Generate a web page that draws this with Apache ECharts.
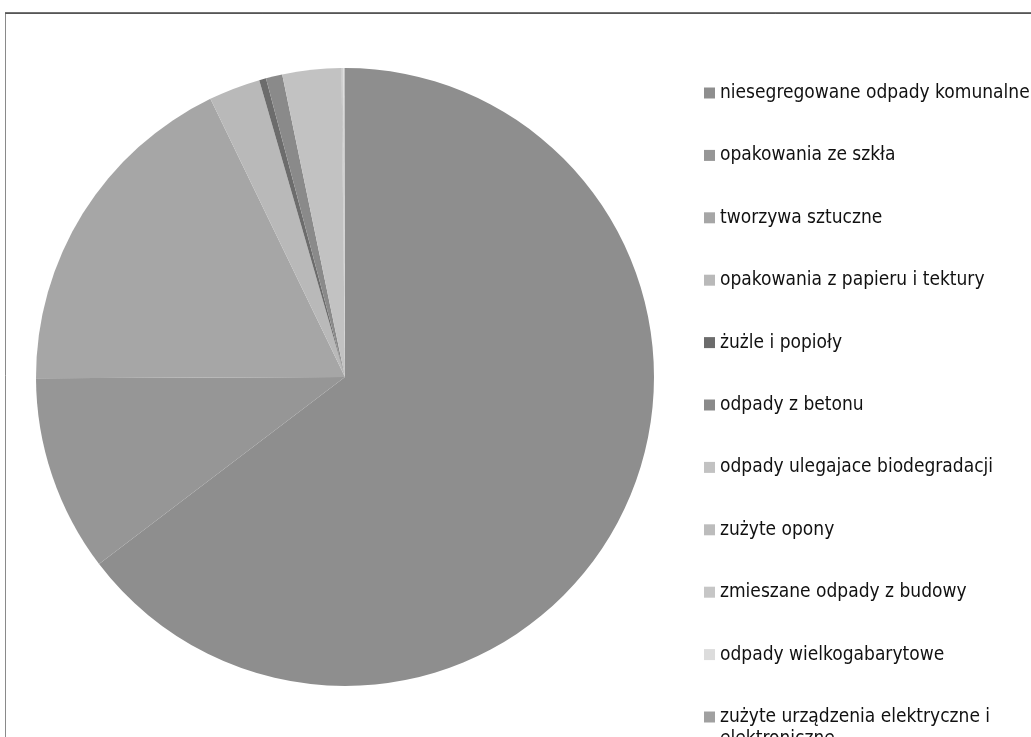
<!DOCTYPE html>
<html>
<head>
<meta charset="utf-8">
<script src="https://cdn.jsdelivr.net/npm/echarts@6/dist/echarts.min.js"></script>
<style>
html,body{margin:0;padding:0;background:#fff;}
#chart{width:1031px;height:737px;}
</style>
</head>
<body>
<div id="chart"></div>
<script>
const categories = [
  'niesegregowane odpady komunalne',
  'opakowania ze szkła',
  'tworzywa sztuczne',
  'opakowania z papieru i tektury',
  'żużle i popioły',
  'odpady z betonu',
  'odpady ulegajace biodegradacji',
  'zużyte opony',
  'zmieszane odpady z budowy',
  'odpady wielkogabarytowe',
  'zużyte urządzenia elektryczne i elektroniczne'
];
const values = [64.7, 10.3, 17.9, 2.7, 0.36, 0.86, 3.08, 0.05, 0.05, 0.05, 0.03];
const colors = ['#8e8e8e', '#969696', '#a6a6a6', '#b9b9b9', '#6c6c6c', '#8a8a8a',
                '#c2c2c2', '#bcbcbc', '#c6c6c6', '#dcdcdc', '#a0a0a0'];

const font = "'Liberation Sans Narrow', 'DejaVu Sans Condensed', 'Noto Sans', sans-serif";
const chart = echarts.init(document.getElementById('chart'));
chart.setOption({
  animation: false,
  backgroundColor: '#fff',
  color: colors,
  graphic: [
    { type: 'rect', silent: true, shape: { x: 5.5, y: 13.5, width: 1040, height: 740 },
      style: { fill: 'none', stroke: '#8a8a8a', lineWidth: 1 } },
    { type: 'line', silent: true, shape: { x1: 5, y1: 13, x2: 1031, y2: 13 },
      style: { stroke: '#444', lineWidth: 1.5 } },
    { type: 'text', silent: true, left: 720, top: 730,
      style: { text: 'elektroniczne', font: '19px ' + font, fill: '#111' } }
  ],
  legend: {
    orient: 'vertical',
    left: 704,
    top: 81,
    height: 700,
    padding: 0,
    itemWidth: 11,
    itemHeight: 11,
    itemGap: 38.4,
    icon: 'rect',
    selectedMode: false,
    formatter: function (name) {
      return name === categories[10] ? 'zużyte urządzenia elektryczne i' : name;
    },
    textStyle: { fontFamily: font, fontSize: 19, color: '#111', lineHeight: 24 },
    data: categories
  },
  series: [{
    type: 'pie',
    center: [345, 377],
    radius: 309,
    startAngle: 90,
    clockwise: true,
    label: { show: false },
    labelLine: { show: false },
    itemStyle: { borderWidth: 0 },
    emphasis: { disabled: true },
    data: categories.map((c, i) => ({ name: c, value: values[i] }))
  }]
});
</script>
</body>
</html>
